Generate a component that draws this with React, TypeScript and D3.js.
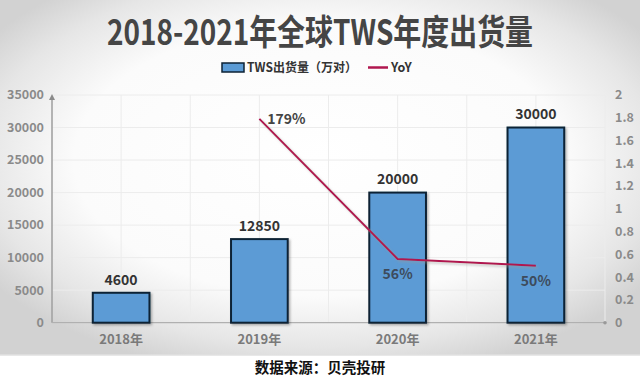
import React from 'react';
import * as d3 from 'd3';

const title = '2018-2021年全球TWS年度出货量';
const source = '数据来源：贝壳投研';
const categories = ['2018年', '2019年', '2020年', '2021年'];
const shipments = [4600, 12850, 20000, 30000];
const yoy: (number | null)[] = [null, 1.79, 0.56, 0.5];
const yoyLabels = ['', '179%', '56%', '50%'];
const leftTicks = [0, 5000, 10000, 15000, 20000, 25000, 30000, 35000];
const rightTicks = [0, 0.2, 0.4, 0.6, 0.8, 1, 1.2, 1.4, 1.6, 1.8, 2];
const seriesNames = ['TWS出货量（万对）', 'YoY'];

const W = 640, H = 381;
const left = 52, right = 605, top = 95, bottom = 322.7;
const FONT = '"Noto Sans CJK SC", "Noto Sans", sans-serif';

export default function App() {
  const x = d3.scaleBand<string>().domain(categories).range([left, right]).paddingInner(0).paddingOuter(0);
  const bw = x.bandwidth() * 0.41;
  const yL = d3.scaleLinear().domain([0, 35000]).range([bottom, top]);
  const yR = d3.scaleLinear().domain([0, 2]).range([bottom, top]);
  const cx = (c: string) => (x(c) as number) + x.bandwidth() / 2;
  const linePts = categories
    .map((c, i) => ({ c, v: yoy[i], i }))
    .filter((d) => d.v !== null) as { c: string; v: number; i: number }[];
  const line = d3.line<{ c: string; v: number }>().x((d) => cx(d.c)).y((d) => yR(d.v));
  const vGrid: number[] = [];
  categories.forEach((c) => {
    vGrid.push(x(c) as number);
    vGrid.push(cx(c));
  });
  vGrid.push(right);

  return (
    <svg width={W} height={H} style={{ position: 'absolute', left: 0, top: 0, display: 'block' }} fontFamily={FONT}>
      <defs>
        <radialGradient id="bg" cx="50%" cy="45%" r="62%" fx="50%" fy="45%">
          <stop offset="0%" stopColor="#ffffff" />
          <stop offset="62%" stopColor="#fbfbfb" />
          <stop offset="85%" stopColor="#e6e6e6" />
          <stop offset="100%" stopColor="#d2d2d2" />
        </radialGradient>
        <filter id="sh" x="-20%" y="-20%" width="140%" height="140%">
          <feDropShadow dx="1.5" dy="1.5" stdDeviation="1.2" floodColor="#000" floodOpacity="0.3" />
        </filter>
        <filter id="lsh" x="-20%" y="-20%" width="140%" height="140%">
          <feDropShadow dx="2" dy="2" stdDeviation="1" floodColor="#999" floodOpacity="0.5" />
        </filter>
      </defs>
      <rect x={0} y={0} width={W} height={H} fill="#ffffff" />
      <rect x={0} y={0} width={W} height={355} fill="url(#bg)" />
      <line x1={0} x2={W} y1={355} y2={355} stroke="#e0e0e0" strokeWidth={1.5} />

      <text x={320} y={45} textAnchor="middle" fontSize={35} fontWeight={700} fill="#454545"
        textLength={426} lengthAdjust="spacingAndGlyphs">{title}</text>

      {/* legend */}
      <rect x={222} y={63} width={22} height={9} fill="#5b9bd5" stroke="#0d2235" strokeWidth={1.5} />
      <text x={247} y={72} fontSize={12.5} fontWeight={700} fill="#333" textLength={110} lengthAdjust="spacingAndGlyphs">{seriesNames[0]}</text>
      <line x1={368} x2={388} y1={67.5} y2={67.5} stroke="#b0174f" strokeWidth={2.5} />
      <text x={391} y={72} fontSize={12.5} fontWeight={700} fill="#333">{seriesNames[1]}</text>

      {/* grid */}
      {leftTicks.map((t) => (
        <line key={'h' + t} x1={left} x2={right} y1={yL(t)} y2={yL(t)} stroke="#ececec" strokeWidth={1} />
      ))}
      {vGrid.map((v, i) => (
        <line key={'v' + i} x1={v} x2={v} y1={top} y2={bottom} stroke="#ececec" strokeWidth={1} />
      ))}

      {/* axes */}
      <line x1={left} x2={left} y1={bottom} y2={top + 2} stroke="#8a8a8a" strokeWidth={1.2} />
      <path d={`M${left - 3},${top + 5} L${left},${top - 1} L${left + 3},${top + 5} Z`} fill="#8a8a8a" />
      <line x1={left} x2={right} y1={bottom} y2={bottom} stroke="#b0b0b0" strokeWidth={1.2} />
      <circle cx={right} cy={bottom} r={1.8} fill="#999" />
      {leftTicks.map((t) => (
        <text key={'lt' + t} x={44} y={yL(t)} dy="0.35em" textAnchor="end" fontSize={12.5} fontWeight={700} fill="#8a8a8a">{t}</text>
      ))}
      {rightTicks.map((t) => (
        <text key={'rt' + t} x={615} y={yR(t)} dy="0.35em" textAnchor="start" fontSize={12.5} fontWeight={700} fill="#8a8a8a">{d3.format('~g')(t)}</text>
      ))}

      {/* bars */}
      {categories.map((c, i) => (
        <g key={'b' + c}>
          <rect x={cx(c) - bw / 2} y={yL(shipments[i])} width={bw} height={bottom - yL(shipments[i])}
            fill="#5b9bd5" stroke="#0d2235" strokeWidth={2} filter="url(#sh)" />
          <text x={cx(c)} y={yL(shipments[i]) - 13} dy="0.35em" textAnchor="middle" fontSize={14} fontWeight={700} fill="#333">{shipments[i]}</text>
          <text x={cx(c)} y={339} dy="0.35em" textAnchor="middle" fontSize={13} fontWeight={700} fill="#7a7a7a">{c}</text>
        </g>
      ))}

      {/* YoY line */}
      <path d={line(linePts) || ''} fill="none" stroke="#b0174f" strokeWidth={2} filter="url(#lsh)" />
      {linePts.map((d) => {
        const first = d.i === 1;
        return (
          <text key={'yl' + d.c} x={first ? cx(d.c) + 27 : cx(d.c)} y={first ? yR(d.v) : yR(d.v) + 15} dy="0.35em"
            textAnchor="middle" fontSize={14} fontWeight={700} fill={first ? '#444' : '#3d4b5c'}>{yoyLabels[d.i]}</text>
        );
      })}

      <text x={320} y={368} dy="0.35em" textAnchor="middle" fontSize={14.5} fontWeight={700} fill="#111">{source}</text>
    </svg>
  );
}
